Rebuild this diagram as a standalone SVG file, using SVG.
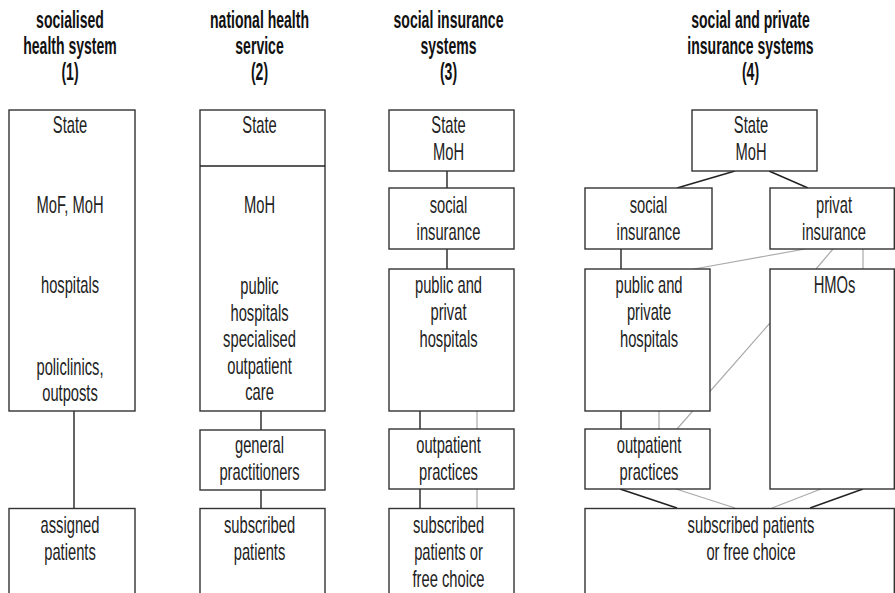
<svg xmlns="http://www.w3.org/2000/svg" width="895" height="593" viewBox="0 0 895 593">
<style>
.bg{fill:#fff}
.box{fill:#fff;stroke:#333;stroke-width:1.4}
.k{stroke:#222;stroke-width:1.4;fill:none}
.g{stroke:#aaa;stroke-width:1.2;fill:none}
.t{font-family:"Liberation Sans",Arial,sans-serif;font-size:23px;fill:#222;text-anchor:middle}
.h{font-family:"Liberation Sans",Arial,sans-serif;font-size:23px;font-weight:bold;fill:#111;text-anchor:middle}
</style>
<rect class="bg" x="0" y="0" width="895" height="593"/>
<g id="headers">
<text class="h" transform="translate(70,27.5) scale(0.61,1)"><tspan x="0">socialised</tspan><tspan x="0" dy="26.5">health system</tspan><tspan x="0" dy="26.5">(1)</tspan></text>
<text class="h" transform="translate(259.5,27.5) scale(0.61,1)"><tspan x="0">national health</tspan><tspan x="0" dy="26.5">service</tspan><tspan x="0" dy="26.5">(2)</tspan></text>
<text class="h" transform="translate(448.5,27.5) scale(0.61,1)"><tspan x="0">social insurance</tspan><tspan x="0" dy="26.5">systems</tspan><tspan x="0" dy="26.5">(3)</tspan></text>
<text class="h" transform="translate(750.5,27.5) scale(0.61,1)"><tspan x="0">social and private</tspan><tspan x="0" dy="26.5">insurance systems</tspan><tspan x="0" dy="26.5">(4)</tspan></text>
</g>
<g id="connectors">
<line class="k" x1="74" y1="411" x2="74" y2="508"/>
<line class="k" x1="261" y1="411" x2="261" y2="430"/>
<line class="k" x1="261" y1="490" x2="261" y2="508"/>
<line class="k" x1="447" y1="171" x2="447" y2="188"/>
<line class="k" x1="447" y1="249" x2="447" y2="269"/>
<line class="k" x1="420" y1="411" x2="420" y2="429"/>
<line class="g" x1="477" y1="411" x2="477" y2="429"/>
<line class="k" x1="420" y1="489" x2="420" y2="508"/>
<line class="g" x1="477" y1="489" x2="477" y2="508"/>
<line class="k" x1="735" y1="171" x2="677" y2="188"/>
<line class="k" x1="769" y1="171" x2="808" y2="188"/>
<line class="k" x1="621" y1="249" x2="621" y2="269"/>
<line class="g" x1="805" y1="249" x2="694" y2="269"/>
<line class="g" x1="833" y1="249" x2="816" y2="269"/>
<line class="g" x1="863" y1="249" x2="863" y2="269"/>
<line class="g" x1="770" y1="323" x2="677" y2="429"/>
<line class="k" x1="621" y1="411" x2="621" y2="429"/>
<line class="g" x1="659" y1="411" x2="659" y2="429"/>
<line class="k" x1="620" y1="489" x2="677" y2="508"/>
<line class="g" x1="676" y1="489" x2="735" y2="508"/>
<line class="g" x1="821" y1="489" x2="772" y2="508"/>
<line class="k" x1="863" y1="489" x2="810" y2="508"/>
</g>
<g id="n1-state">
<rect class="box" x="9" y="110" width="126" height="301"/>
<text class="t" transform="translate(70,133.3) scale(0.64,1)"><tspan x="0">State</tspan><tspan x="0" y="80">MoF, MoH</tspan><tspan x="0" y="160">hospitals</tspan><tspan x="0" y="241.7">policlinics,</tspan><tspan x="0" y="268.2">outposts</tspan></text>
</g>
<g id="n1-patients">
<rect class="box" x="9" y="508.5" width="126" height="95"/>
<text class="t" transform="translate(70,533.3) scale(0.64,1)"><tspan x="0">assigned</tspan><tspan x="0" dy="26.7">patients</tspan></text>
</g>
<g id="n2-state">
<rect class="box" x="200" y="110" width="125" height="301"/>
<line class="k" x1="200" y1="166" x2="325" y2="166"/>
<text class="t" transform="translate(259.5,133.3) scale(0.64,1)"><tspan x="0">State</tspan><tspan x="0" y="80">MoH</tspan><tspan x="0" y="160.7">public</tspan><tspan x="0" dy="26.6">hospitals</tspan><tspan x="0" dy="26.6">specialised</tspan><tspan x="0" dy="26.6">outpatient</tspan><tspan x="0" dy="26.6">care</tspan></text>
</g>
<g id="n2-gp">
<rect class="box" x="200" y="430" width="125" height="60"/>
<text class="t" transform="translate(259.5,453.3) scale(0.64,1)"><tspan x="0">general</tspan><tspan x="0" dy="26.7">practitioners</tspan></text>
</g>
<g id="n2-patients">
<rect class="box" x="200" y="508.5" width="125" height="95"/>
<text class="t" transform="translate(259.5,533.3) scale(0.64,1)"><tspan x="0">subscribed</tspan><tspan x="0" dy="26.7">patients</tspan></text>
</g>
<g id="n3-state">
<rect class="box" x="389" y="110" width="125" height="61"/>
<text class="t" transform="translate(448.5,133.3) scale(0.64,1)"><tspan x="0">State</tspan><tspan x="0" dy="26.7">MoH</tspan></text>
</g>
<g id="n3-social">
<rect class="box" x="389" y="188" width="125" height="61"/>
<text class="t" transform="translate(448.5,213.3) scale(0.64,1)"><tspan x="0">social</tspan><tspan x="0" dy="26.7">insurance</tspan></text>
</g>
<g id="n3-hospitals">
<rect class="box" x="389" y="269" width="125" height="142"/>
<text class="t" transform="translate(448.5,293.3) scale(0.64,1)"><tspan x="0">public and</tspan><tspan x="0" dy="26.7">privat</tspan><tspan x="0" dy="26.7">hospitals</tspan></text>
</g>
<g id="n3-outpatient">
<rect class="box" x="389" y="429" width="125" height="60"/>
<text class="t" transform="translate(448.5,453.3) scale(0.64,1)"><tspan x="0">outpatient</tspan><tspan x="0" dy="26.7">practices</tspan></text>
</g>
<g id="n3-patients">
<rect class="box" x="389" y="508.5" width="125" height="95"/>
<text class="t" transform="translate(448.5,533.3) scale(0.64,1)"><tspan x="0">subscribed</tspan><tspan x="0" dy="26.7">patients or</tspan><tspan x="0" dy="26.7">free choice</tspan></text>
</g>
<g id="n4-state">
<rect class="box" x="692" y="110" width="125" height="61"/>
<text class="t" transform="translate(751,133.3) scale(0.64,1)"><tspan x="0">State</tspan><tspan x="0" dy="26.7">MoH</tspan></text>
</g>
<g id="n4-social">
<rect class="box" x="585" y="188" width="127" height="61"/>
<text class="t" transform="translate(648.5,213.3) scale(0.64,1)"><tspan x="0">social</tspan><tspan x="0" dy="26.7">insurance</tspan></text>
</g>
<g id="n4-privat">
<rect class="box" x="770" y="188" width="124.3" height="61"/>
<text class="t" transform="translate(834,213.3) scale(0.64,1)"><tspan x="0">privat</tspan><tspan x="0" dy="26.7">insurance</tspan></text>
</g>
<g id="n4-hospitals">
<rect class="box" x="585" y="269" width="125" height="142"/>
<text class="t" transform="translate(649,293.3) scale(0.64,1)"><tspan x="0">public and</tspan><tspan x="0" dy="26.7">private</tspan><tspan x="0" dy="26.7">hospitals</tspan></text>
</g>
<g id="n4-hmos">
<rect class="box" x="770" y="269" width="124.3" height="220"/>
<text class="t" transform="translate(834.5,293.3) scale(0.64,1)">HMOs</text>
</g>
<g id="n4-outpatient">
<rect class="box" x="585" y="429" width="125" height="60"/>
<text class="t" transform="translate(649,453.3) scale(0.64,1)"><tspan x="0">outpatient</tspan><tspan x="0" dy="26.7">practices</tspan></text>
</g>
<g id="n4-patients">
<rect class="box" x="585" y="508.5" width="309.3" height="95"/>
<text class="t" transform="translate(751,533.3) scale(0.64,1)"><tspan x="0">subscribed patients</tspan><tspan x="0" dy="26.7">or free choice</tspan></text>
</g>
</svg>
